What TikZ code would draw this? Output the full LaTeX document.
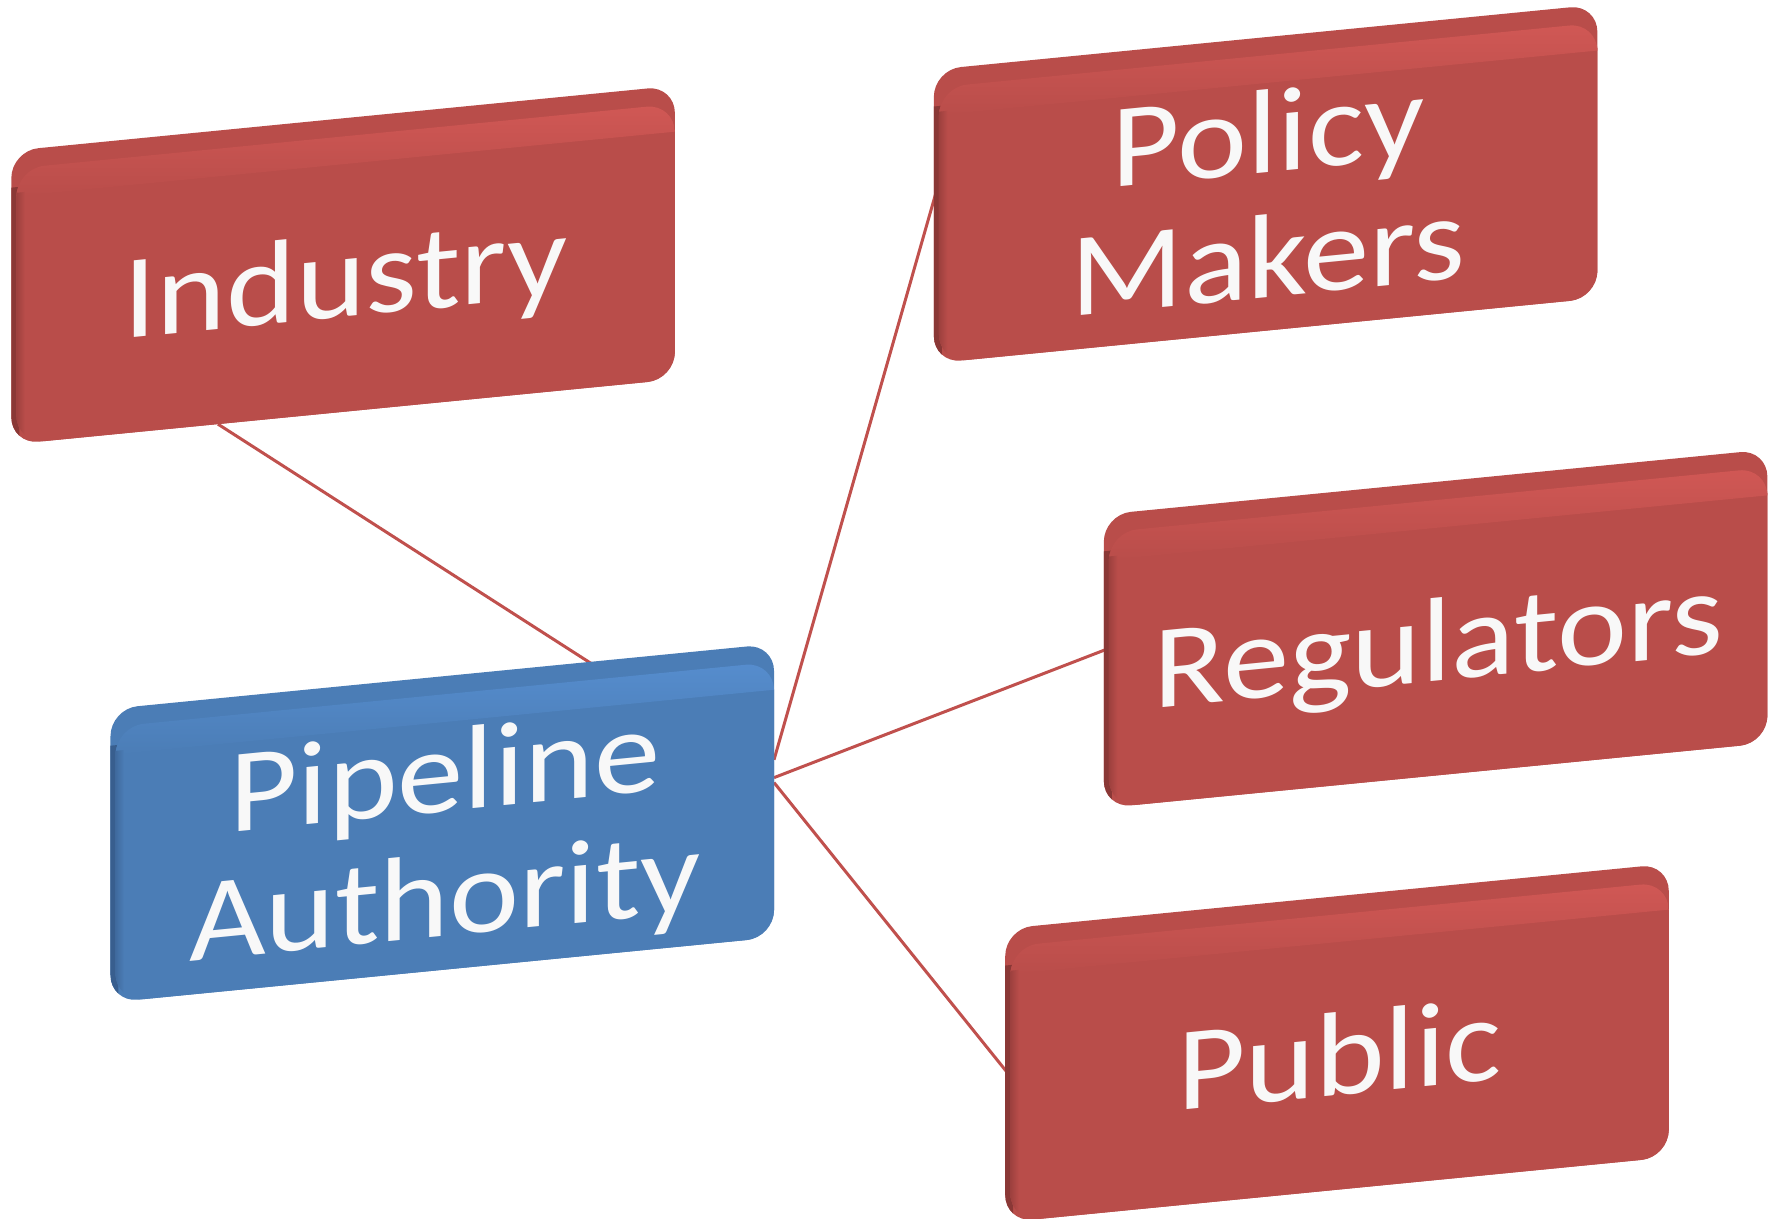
\documentclass[tikz,border=0pt]{standalone}
\usepackage{fontspec}
\setmainfont{Carlito}[FakeStretch=1.11]
\usetikzlibrary{calc,backgrounds}
\definecolor{redface}{RGB}{185,77,74}
\definecolor{redlight}{RGB}{209,88,85}
\definecolor{reddark}{RGB}{138,56,54}
\definecolor{blueface}{RGB}{75,125,182}
\definecolor{bluelight}{RGB}{86,141,206}
\definecolor{bluedark}{RGB}{56,94,142}
\definecolor{linkred}{RGB}{192,80,77}
\definecolor{txtwhite}{RGB}{248,248,248}
\tikzset{
  slabtext/.style={minimum width=5.81cm, minimum height=2.43cm, inner sep=0pt,
    outer sep=0pt, text=txtwhite, font=\fontsize{30}{31.3}\selectfont,
    align=center, transform shape, text height=0.76cm, text depth=0cm},
  twolines/.style={text height=1.84cm, text depth=0cm},
  link/.style={draw=linkred, line width=0.75pt},
}
% #1 node options, #2 centre, #3 face, #4 light, #5 dark, #6 name, #7 text
\newcommand\drawslab[7][]{%
  \begin{scope}[shift={#2}, yslant=0.098]
    \fill[#3, rounded corners=0.24cm] (-2.95,-1.215) rectangle (2.905,1.375);
    \begin{scope}
      \clip[rounded corners=0.24cm] (-2.95,-1.215) rectangle (2.905,1.375);
      \fill[#5] (-3.0,-1.3) rectangle (-2.88,1.05);
    \end{scope}
    \fill[#3, rounded corners=0.25cm] (-2.905,-1.215) rectangle (2.905,1.215);
    \begin{scope}
      \clip[rounded corners=0.25cm] (-2.905,-1.215) rectangle (2.905,1.215);
      \shade[top color=#4, bottom color=#3] (-3,0.97) rectangle (3,1.215);
      \shade[left color=#5!60!#3, right color=#3] (-2.905,-1.3) rectangle (-2.83,1.0);
    \end{scope}
    \node[slabtext, #1] (#6) at (0,0) {#7};
  \end{scope}}
\begin{document}
\begin{tikzpicture}
  \useasboundingbox (0,0) rectangle (15.68,10.756);
  \begin{scope}[on background layer]
    \fill[white] (0,0) rectangle (15.68,10.756);
  \end{scope}

  \drawslab{(3.05,8.339)}{redface}{redlight}{reddark}{ind}{Industry}
  \drawslab[twolines]{(3.925,3.415)}{blueface}{bluelight}{bluedark}{pa}{Pipeline\\Authority}
  \drawslab[twolines]{(11.19,9.055)}{redface}{redlight}{reddark}{pm}{Policy\\Makers}
  \drawslab{(12.69,5.13)}{redface}{redlight}{reddark}{reg}{Regulators}
  \drawslab{(11.82,1.475)}{redface}{redlight}{reddark}{pub}{Public}

  \begin{scope}[on background layer]
    \draw[link] ($(ind.south west)!0.306!(ind.south east)$) -- ($(pa.north west)!0.756!(pa.north east)$);
    \draw[link] ($(pa.north east)!0.355!(pa.south east)$) -- ($(pm.north west)!0.345!(pm.south west)$);
    \draw[link] ($(pa.north east)!0.42!(pa.south east)$) -- ($(reg.north west)!0.422!(reg.south west)$);
    \draw[link] ($(pa.north east)!0.438!(pa.south east)$) -- ($(pub.north west)!0.472!(pub.south west)$);
  \end{scope}
\end{tikzpicture}
\end{document}
